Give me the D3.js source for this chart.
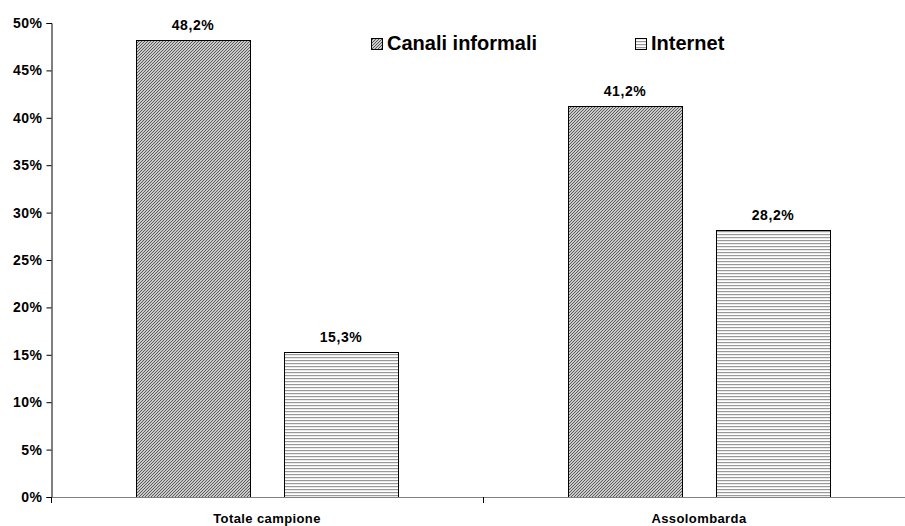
<!DOCTYPE html>
<html>
<head>
<meta charset="utf-8">
<script src="https://cdn.jsdelivr.net/npm/d3@7"></script>
<style>
  html, body { margin: 0; padding: 0; background: #fff; }
  svg { display: block; font-family: Arial, "Liberation Sans", sans-serif; }
</style>
</head>
<body>
<svg id="chart" width="905" height="526"></svg>
<script>
// Categories, series and values
const categories = ["Totale campione", "Assolombarda"];
const seriesNames = ["Canali informali", "Internet"];
const canaliInformali = [48.2, 41.2];
const internet = [15.3, 28.2];
const yTicks = [0, 5, 10, 15, 20, 25, 30, 35, 40, 45, 50];

const seriesValues = [canaliInformali, internet];
const svg = d3.select("#chart");

// Fill patterns: diagonal hatch and horizontal lines
const defs = svg.append("defs");
const diag = defs.append("pattern")
  .attr("id", "pat-diag").attr("patternUnits", "userSpaceOnUse")
  .attr("width", 3).attr("height", 3);
diag.append("rect").attr("width", 3).attr("height", 3).attr("fill", "#fff");
diag.append("path").attr("d", "M-1,1 L1,-1 M0,3 L3,0 M2,4 L4,2")
  .attr("stroke", "#555").attr("stroke-width", 1.2);

const horiz = defs.append("pattern")
  .attr("id", "pat-horiz").attr("patternUnits", "userSpaceOnUse")
  .attr("width", 4).attr("height", 3);
horiz.append("rect").attr("width", 4).attr("height", 3).attr("fill", "#fff");
horiz.append("rect").attr("y", 0).attr("width", 4).attr("height", 1.2).attr("fill", "#999");

const fills = ["url(#pat-diag)", "url(#pat-horiz)"];

const plot = { left: 51, right: 915, top: 23, bottom: 497 };

const x = d3.scaleBand().domain(categories).range([plot.left, plot.right]);
const y = d3.scaleLinear().domain([0, 50]).range([plot.bottom, plot.top]);

// Bar placement within each category band
const barW = 114, barGap = 34;
const xSub = d3.scaleBand().domain(seriesNames)
  .range([-(barW + barGap / 2), barW + barGap / 2])
  .paddingInner(barGap / (barW + barGap));

const fmt = v => d3.format(".1f")(v).replace(".", ",") + "%";

// Bars
seriesNames.forEach((s, si) => {
  const g = svg.append("g");
  categories.forEach((c, ci) => {
    const v = seriesValues[si][ci];
    const cx = x(c) + x.bandwidth() / 2;
    const bx = Math.round(cx + xSub(s));
    g.append("rect")
      .attr("x", bx + 0.5).attr("y", Math.round(y(v)) + 0.5)
      .attr("width", xSub.bandwidth()).attr("height", y(0) - Math.round(y(v)))
      .attr("fill", fills[si]).attr("stroke", "#000").attr("stroke-width", 1);
    g.append("text")
      .attr("x", bx + xSub.bandwidth() / 2).attr("y", y(v) - 10)
      .attr("text-anchor", "middle").attr("font-size", 14).attr("font-weight", "bold")
      .attr("letter-spacing", 0.6)
      .text(fmt(v));
  });
});

// Y axis
const yAxis = d3.axisLeft(y).tickValues(yTicks).tickSize(5).tickPadding(4)
  .tickFormat(d => d + "%");
const yg = svg.append("g").attr("transform", `translate(${plot.left + 0.5},0)`).call(yAxis);
yg.select(".domain").attr("stroke", "#000");
yg.selectAll(".tick line").attr("stroke", "#000");
yg.selectAll(".tick text").attr("font-size", 14).attr("font-weight", "bold")
  .attr("letter-spacing", 0.5)
  .attr("font-family", "Arial, 'Liberation Sans', sans-serif").attr("fill", "#000");

// X axis with tick marks at category boundaries
svg.append("line")
  .attr("x1", plot.left).attr("x2", plot.right)
  .attr("y1", y(0) + 0.5).attr("y2", y(0) + 0.5)
  .attr("stroke", "#808080").attr("stroke-width", 1);
[plot.left, x(categories[1])].forEach(tx => {
  svg.append("line").attr("x1", tx + 0.5).attr("x2", tx + 0.5)
    .attr("y1", y(0)).attr("y2", y(0) + 6).attr("stroke", "#000");
});

categories.forEach(c => {
  svg.append("text")
    .attr("x", x(c) + x.bandwidth() / 2).attr("y", 523)
    .attr("text-anchor", "middle").attr("font-size", 13).attr("font-weight", "bold")
    .attr("letter-spacing", 0.4)
    .text(c);
});

// Legend
const legendPos = [371, 635];
seriesNames.forEach((s, i) => {
  const lg = svg.append("g").attr("transform", `translate(${legendPos[i]},38)`);
  lg.append("rect").attr("x", 0.5).attr("y", 0.5).attr("width", 11).attr("height", 11)
    .attr("fill", fills[i]).attr("stroke", "#000");
  lg.append("text").attr("x", 16).attr("y", 12)
    .attr("font-size", 20).attr("font-weight", "bold").text(s);
});
</script>
</body>
</html>
